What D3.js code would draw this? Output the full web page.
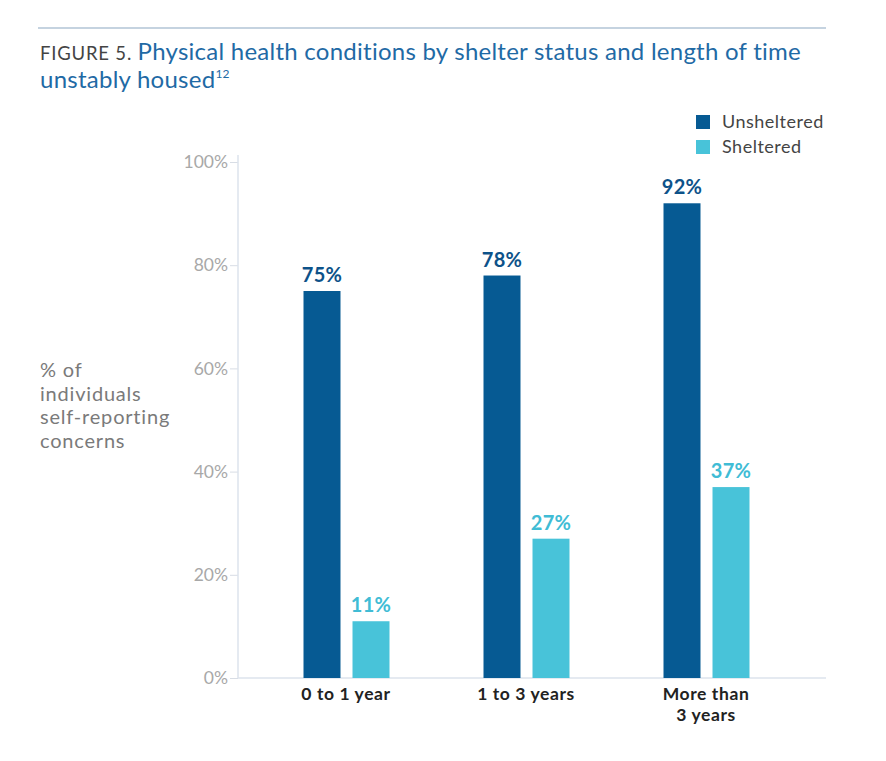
<!DOCTYPE html>
<html>
<head>
<meta charset="utf-8">
<script src="https://cdn.jsdelivr.net/npm/d3@7"></script>
<style>
  html, body { margin: 0; padding: 0; background: #fff; }
  svg { display: block; }
</style>
</head>
<body>
<svg id="chart" width="886" height="761"></svg>
<script>
const categories = [["0 to 1 year"], ["1 to 3 years"], ["More than", "3 years"]];
const categoryKeys = ["0 to 1 year", "1 to 3 years", "More than 3 years"];
const seriesNames = ["Unsheltered", "Sheltered"];
const unsheltered = [75, 78, 92];
const sheltered = [11, 27, 37];
const yTicks = [0, 20, 40, 60, 80, 100];
const colors = ["#065a93", "#48c3d9"];

const svg = d3.select("#chart");
const font = "Lato, 'Open Sans', sans-serif";

// top rule
svg.append("line").attr("x1", 38).attr("x2", 826).attr("y1", 28).attr("y2", 28)
  .attr("stroke", "#c5d3e0").attr("stroke-width", 2);

// title
const t1 = svg.append("text").attr("x", 40).attr("y", 60)
  .attr("font-family", font).attr("font-size", 24);
t1.append("tspan").attr("fill", "#444").attr("font-size", 18.5).attr("letter-spacing", 0.8).text("FIGURE 5. ");
t1.append("tspan").attr("fill", "#1f6aa5").attr("letter-spacing", 0.25).text("Physical health conditions by shelter status and length of time");
const t2 = svg.append("text").attr("x", 40).attr("y", 88)
  .attr("font-family", font).attr("font-size", 24).attr("fill", "#1f6aa5").attr("letter-spacing", 0.25);
t2.append("tspan").text("unstably housed");
t2.append("tspan").attr("font-size", 12).attr("dy", -10).text("12");

// scales
const y = d3.scaleLinear().domain([0, 100]).range([678, 162]);
const x0 = d3.scaleBand().domain(categoryKeys).range([256, 796]).paddingInner(0).paddingOuter(0);
const x1 = d3.scaleBand().domain(seriesNames).range([-42.5, 43.5]).paddingInner(0.245);

// y axis
const yAxis = d3.axisLeft(y).tickValues(yTicks).tickFormat(d => d + "%").tickSize(8).tickPadding(2);
const yg = svg.append("g").attr("transform", "translate(238,0)").call(yAxis);
yg.select(".domain").remove();
yg.selectAll(".tick line").attr("stroke", "#d8dde5");
yg.selectAll(".tick text").attr("fill", "#a8a8a8").attr("font-family", font).attr("font-size", 17.5);
svg.append("line").attr("x1", 238).attr("x2", 238).attr("y1", 155).attr("y2", 678)
  .attr("stroke", "#dde3ec").attr("stroke-width", 1.5);
svg.append("line").attr("x1", 238).attr("x2", 826).attr("y1", 678).attr("y2", 678)
  .attr("stroke", "#dde3ec").attr("stroke-width", 1.5);

// y label
const ylab = ["% of", "individuals", "self-reporting", "concerns"];
svg.append("text").attr("font-family", font).attr("font-size", 20).attr("fill", "#7a7a7a")
  .attr("letter-spacing", 0.8)
  .selectAll("tspan").data(ylab).join("tspan")
  .attr("x", 40).attr("y", (d, i) => 377 + i * 23.5).text(d => d);

// bars
const data = categoryKeys.map((c, i) => ({ cat: c, vals: [
  { s: seriesNames[0], v: unsheltered[i], c: colors[0] },
  { s: seriesNames[1], v: sheltered[i], c: colors[1] }
]}));
const groups = svg.append("g").selectAll("g").data(data).join("g")
  .attr("transform", d => `translate(${x0(d.cat) + x0.bandwidth() / 2},0)`);
groups.selectAll("rect").data(d => d.vals).join("rect")
  .attr("x", d => x1(d.s)).attr("width", x1.bandwidth())
  .attr("y", d => y(d.v)).attr("height", d => y(0) - y(d.v))
  .attr("fill", d => d.c);
groups.selectAll("text.val").data(d => d.vals).join("text").attr("class", "val")
  .attr("x", d => x1(d.s) + x1.bandwidth() / 2).attr("y", d => y(d.v) - 9)
  .attr("text-anchor", "middle").attr("font-family", font).attr("font-weight", "bold")
  .attr("font-size", 20).attr("letter-spacing", 0.3).attr("fill", d => d.c === colors[0] ? "#0d5289" : "#40bcd5")
  .text(d => d.v + "%");

// category labels
groups.append("text").attr("text-anchor", "middle").attr("font-family", font)
  .attr("font-weight", "bold").attr("font-size", 17.5).attr("letter-spacing", 0.6).attr("fill", "#222")
  .selectAll("tspan").data((d, i) => categories[i]).join("tspan")
  .attr("x", 0).attr("y", (d, i) => 700 + i * 21).text(d => d);

// legend
const leg = svg.append("g").selectAll("g").data(seriesNames).join("g")
  .attr("transform", (d, i) => `translate(696,${115 + i * 25})`);
leg.append("rect").attr("width", 14).attr("height", 14).attr("fill", (d, i) => colors[i]);
leg.append("text").attr("x", 26).attr("y", 13).attr("font-family", font).attr("font-size", 18)
  .attr("letter-spacing", 0.5).attr("fill", "#444").text(d => d);
</script>
</body>
</html>
